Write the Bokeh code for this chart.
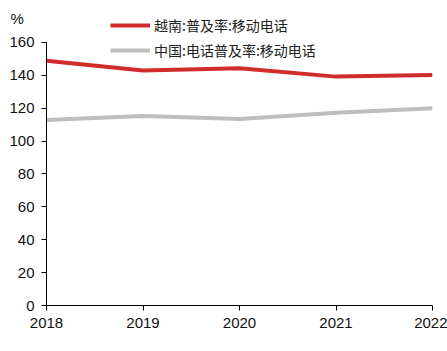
from bokeh.plotting import figure
from bokeh.models import Legend, LegendItem, Title, FixedTicker
from bokeh.embed import file_html
from bokeh.resources import INLINE

years = [2018, 2019, 2020, 2021, 2022]
vietnam = [148.8, 142.9, 144.3, 139.2, 140.2]
china = [112.8, 115.2, 113.4, 117.3, 119.9]
name_vn = "越南:普及率:移动电话"
name_cn = "中国:电话普及率:移动电话"
y_ticks = [0, 20, 40, 60, 80, 100, 120, 140, 160]
unit = "%"

p = figure(width=447, height=351, output_backend="svg", toolbar_location=None,
           x_range=(2018, 2022), y_range=(0, 178.2),
           min_border_left=46, min_border_right=15, min_border_top=12, min_border_bottom=46)
p.outline_line_color = None
p.xgrid.visible = False
p.ygrid.visible = False
p.background_fill_color = "white"
p.border_fill_color = "white"

r1 = p.line(years, vietnam, line_color="#D22B2B", line_width=4)
r2 = p.line(years, china, line_color="#BEBEBE", line_width=4)

for ax in (p.xaxis[0], p.yaxis[0]):
    ax.axis_line_color = "black"
    ax.major_tick_line_color = "black"
    ax.minor_tick_line_color = None
    ax.major_tick_in = 0
    ax.major_tick_out = 5
    ax.major_label_text_font = "Liberation Sans"
    ax.major_label_text_font_size = "15px"
    ax.major_label_text_color = "#111111"
p.xaxis[0].ticker = FixedTicker(ticks=years)
p.yaxis[0].ticker = FixedTicker(ticks=y_ticks)
p.yaxis[0].bounds = (0, 160)
p.yaxis[0].major_label_standoff = 7
p.xaxis[0].major_label_standoff = 7

legend = Legend(items=[LegendItem(label=name_vn, renderers=[r1]),
                       LegendItem(label=name_cn, renderers=[r2])],
                location=(64, 245), padding=0, margin=0, spacing=5,
                glyph_width=40, glyph_height=20, label_height=20,
                label_standoff=4, label_text_font="Noto Sans CJK SC",
                label_text_font_size="14px", label_text_color="#222222",
                border_line_color=None, background_fill_alpha=0)
p.add_layout(legend, "center")

t = Title(text=unit, align="left", offset=-36, standoff=-29, vertical_align="bottom",
          text_line_height=1.8,
          text_font="Liberation Sans", text_font_size="15px",
          text_font_style="normal", text_color="#111111")
p.add_layout(t, "above")

open("out.html", "w").write(file_html(p, INLINE))
